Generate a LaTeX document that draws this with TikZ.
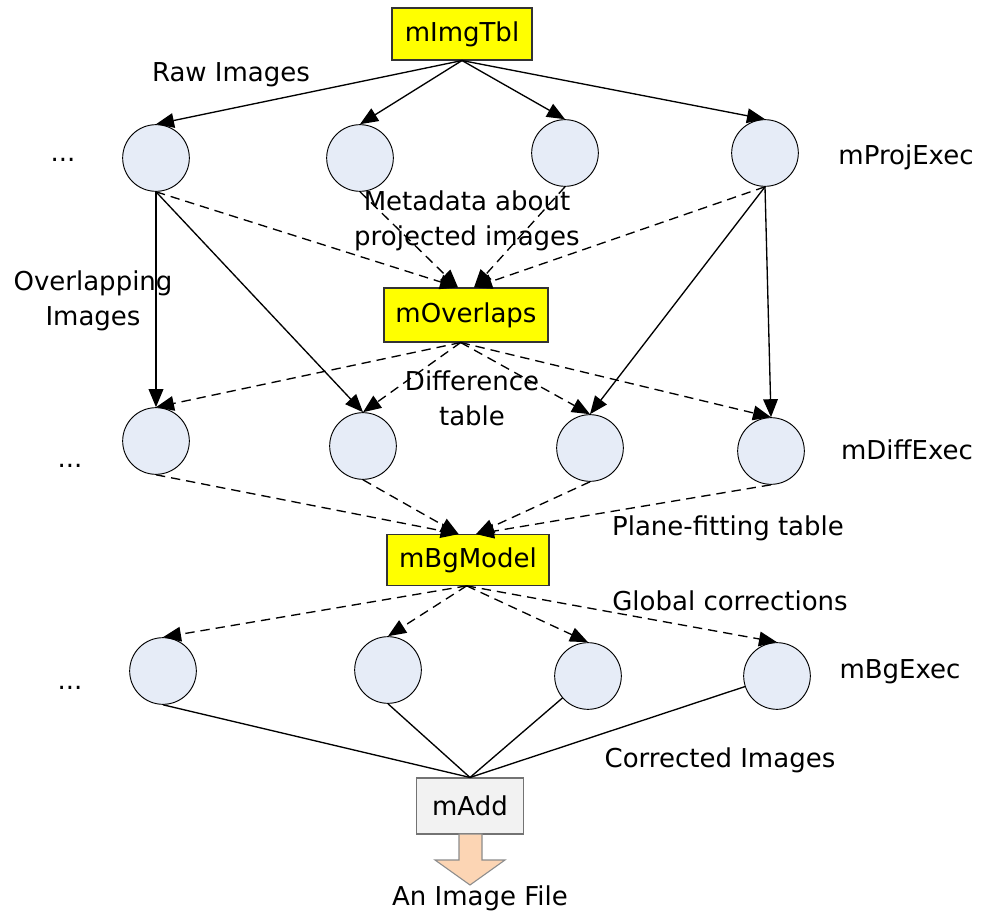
\documentclass[tikz,border=0pt]{standalone}
\usepackage{fontspec}
\setmainfont{DejaVu Sans}
\usetikzlibrary{arrows.meta}
\definecolor{circfill}{HTML}{E6ECF7}
\definecolor{boxyel}{HTML}{FFFF00}
\definecolor{addfill}{HTML}{F2F2F2}
\definecolor{fatfill}{HTML}{FCD5B4}
\definecolor{fatdraw}{HTML}{8C8C8C}
\tikzset{
  job/.style={circle,draw=black,line width=0.7pt,fill=circfill,minimum size=50pt,inner sep=0pt},
  ybox/.style={draw=black!80,line width=0.8pt,fill=boxyel,inner sep=0pt,font=\fontsize{19.5}{26}\selectfont},
  gbox/.style={draw=black!55,line width=0.8pt,fill=addfill,inner sep=0pt,font=\fontsize{19.5}{26}\selectfont},
  lbl/.style={font=\fontsize{19.5}{26}\selectfont,align=center,inner sep=0pt},
  solidarr/.style={line width=1pt,-{Triangle[length=13.5pt,width=11pt]}},
  dasharr/.style={line width=1pt,dash pattern=on 7pt off 4.5pt,-{Triangle[length=13.5pt,width=11pt]}},
  plain/.style={line width=1pt},
}
\begin{document}
\begin{tikzpicture}[x=0.75pt,y=-0.75pt]
\useasboundingbox (0,0) rectangle (986,916);
% boxes
\node[ybox,minimum width=105pt,minimum height=39pt] (imgtbl) at (462,34) {mImgTbl};
\node[ybox,minimum width=123pt,minimum height=40.5pt] (overlaps) at (466,315) {mOverlaps};
\node[ybox,minimum width=121.5pt,minimum height=38pt] (bgmodel) at (468,560) {mBgModel};
\node[gbox,minimum width=80pt,minimum height=42pt] (madd) at (470,806) {mAdd};
% circles
\node[job] (c1) at (156,158) {};
\node[job] (c2) at (360,158) {};
\node[job] (c3) at (565,153) {};
\node[job] (c4) at (765,153) {};
\node[job] (d1) at (156,441) {};
\node[job] (d2) at (363,446) {};
\node[job] (d3) at (590,448) {};
\node[job] (d4) at (771,451) {};
\node[job] (e1) at (163,671) {};
\node[job] (e2) at (388,670) {};
\node[job] (e3) at (588,676) {};
\node[job] (e4) at (777,676) {};
% coordinates on box edges
\coordinate (ovL) at ([xshift=-6pt]overlaps.north);
\coordinate (ovR) at ([xshift=6pt]overlaps.north);
\coordinate (ovS) at ([xshift=-4pt]overlaps.south);
\coordinate (bgL) at ([xshift=-7pt]bgmodel.north);
\coordinate (bgR) at ([xshift=6pt]bgmodel.north);
\coordinate (bgS) at ([xshift=-1pt]bgmodel.south);
% row 1 arrows
\foreach \c in {c1,c2,c3,c4} \draw[solidarr] (imgtbl.south) -- (\c.north);
\draw[dasharr] (c1.south) -- (ovL);
\draw[dasharr] (c2.south) -- (ovL);
\draw[dasharr] (c3.south) -- (ovR);
\draw[dasharr] (c4.south) -- (ovR);
\draw[solidarr] (c1.south) -- (d1.north);
\draw[solidarr] (c1.south) -- (d2.north);
\draw[solidarr] (c4.south) -- (d3.north);
\draw[solidarr] (c4.south) -- (d4.north);
\foreach \d in {d1,d2,d3,d4} \draw[dasharr] (ovS) -- (\d.north);
\draw[dasharr] (d1.south) -- (bgL);
\draw[dasharr] (d2.south) -- (bgL);
\draw[dasharr] (d3.south) -- (bgR);
\draw[dasharr] (d4.south) -- (bgR);
\foreach \e in {e1,e2,e3,e4} \draw[dasharr] (bgS) -- (\e.north);
\draw[plain] (e1.south) -- (madd.north);
\draw[plain] (e2.south) -- (madd.north);
\draw[plain] (e3) -- (madd.north);
\draw[plain] (e4) -- (madd.north);
% fat arrow
\draw[fatdraw,line width=0.8pt,fill=fatfill]
  (459,834) -- (482,834) -- (482,860) -- (505,860) -- (470,885) -- (435,860) -- (459,860) -- cycle;
% labels
\node[lbl] (raw) at (231,75) {Raw Images};
\node[lbl] (dots1) at (63,160) {...};
\node[lbl] (dots2) at (70,466) {...};
\node[lbl] (dots3) at (70,688) {...};
\node[lbl] (proj) at (906,157) {mProjExec};
\node[lbl] (meta) at (467,221) {Metadata about\\projected images};
\node[lbl] (ovimg) at (93,301) {Overlapping\\Images};
\node[lbl] (difft) at (472,398) {Difference\\table};
\node[lbl] (diffexec) at (907,450) {mDiffExec};
\node[lbl] (plane) at (728,528) {Plane-fitting table};
\node[lbl] (global) at (730,601) {Global corrections};
\node[lbl] (bgexec) at (900,672) {mBgExec};
\node[lbl] (corr) at (720,760) {Corrected Images};
\node[lbl] (file) at (480,898) {An Image File};
\end{tikzpicture}
\end{document}
